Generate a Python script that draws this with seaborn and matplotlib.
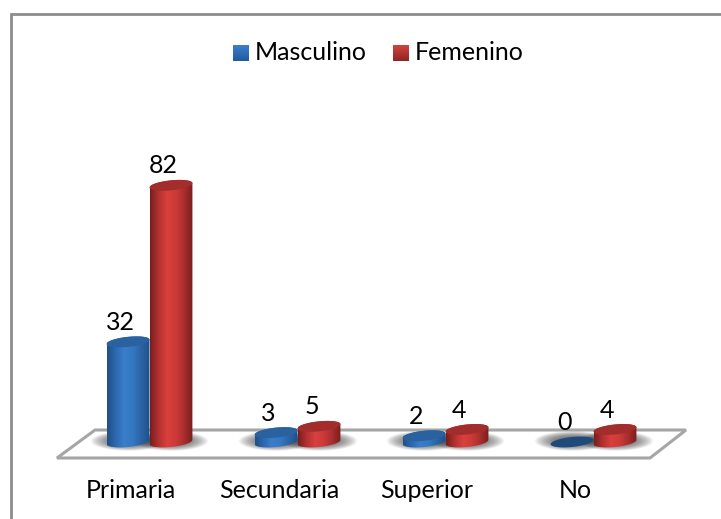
import numpy as np
import pandas as pd
import matplotlib
matplotlib.use("Agg")
import matplotlib.pyplot as plt
from matplotlib.colors import LinearSegmentedColormap
from matplotlib.path import Path
from matplotlib.patches import PathPatch, Polygon
import seaborn as sns

categories = ["Primaria", "Secundaria", "Superior", "No"]
masculino = [32, 3, 2, 0]
femenino = [82, 5, 4, 4]

W, H = 721, 519
BASE_Y = 442      # pixel row of value 0
PX_PER_UNIT = 3.13
CAT_STEP = 148
CAT0_X = 149.5
RY = 5.0
TILT = 0.10

# Gradient stops across each cylinder
blue_side = ["#1f4f88", "#2c69ae", "#3a7ecb", "#3478c2", "#2a63a4", "#1f5189"]
red_side = ["#7a1d1d", "#b23131", "#da403d", "#cc3a38", "#a82e2d", "#781e1e"]
blue_top = "#2a619f"
red_top = "#a32d2c"
zero_top = "#1f4a7c"

sns.set_theme(style="white")
plt.rcParams["font.family"] = ["Lato", "DejaVu Sans"]

df = pd.DataFrame({
    "cat": categories * 2,
    "value": masculino + femenino,
    "serie": ["Masculino"] * 4 + ["Femenino"] * 4,
})

fig = plt.figure(figsize=(W / 100, H / 100), dpi=100)
ax = fig.add_axes([0, 0, 1, 1])
sns.barplot(data=df, x="cat", y="value", hue="serie", order=categories,
            hue_order=["Masculino", "Femenino"], width=0.58, gap=0,
            palette=["#2f6db5", "#c0322f"], legend=False, ax=ax)
ax.axis("off")


# helpers: pixel position of the image to data coords
def px(x):
    return (x - CAT0_X) / CAT_STEP


def py(y):
    return (BASE_Y - y) / PX_PER_UNIT


bars = list(ax.patches[:8])

# floor of the chart
floor = Polygon([(px(57), py(458)), (px(650), py(458)), (px(686), py(430)), (px(95), py(430))],
                closed=True, fc="white", ec="#a6a6a6", lw=2.2, zorder=1)
ax.add_patch(floor)

# outer border, there is no right or bottom side
ax.plot([px(11.5), px(11.5), px(W)], [py(H), py(13.5), py(13.5)], color="#8c8c8c", lw=2, zorder=1,
        solid_joinstyle="miter")

# soft shadows on the floor
for b in bars:
    cx_px = CAT0_X + (b.get_x() + b.get_width() / 2) * CAT_STEP
    gx, gy = np.meshgrid(np.linspace(-1, 1, 120), np.linspace(-1, 1, 60))
    fall = np.clip(1 - (gx ** 2 + gy ** 2), 0, 1) ** 0.9
    rgba = np.zeros(fall.shape + (4,))
    rgba[..., 3] = 0.6 * fall
    ax.imshow(rgba, extent=[px(cx_px - 38), px(cx_px + 38), py(451), py(431)],
              aspect="auto", zorder=1.5, interpolation="bilinear")

t = np.linspace(0, 2 * np.pi, 80)


def ellipse(cx, cy, rx):
    return cx + rx * np.cos(t), cy - RY * np.sin(t) - TILT * rx * np.cos(t)


for i, b in enumerate(bars):
    val = b.get_height()
    cx = CAT0_X + (b.get_x() + b.get_width() / 2) * CAT_STEP
    rx = b.get_width() * CAT_STEP / 2
    top = BASE_Y - val * PX_PER_UNIT
    is_blue = i < 4
    side = blue_side if is_blue else red_side
    b.set_visible(False)
    z = 3 + i * 0.01 + (0.5 if not is_blue else 0)

    if val == 0:
        ex, ey = ellipse(cx, BASE_Y, rx)
        ax.fill(px(ex), py(ey), color=zero_top, lw=0, zorder=z)
        continue

    # body outline: lower half of the bottom ellipse plus the bar sides
    ex_t, ey_t = ellipse(cx, top, rx)
    lower = t[:40] + np.pi
    bx = cx + rx * np.cos(lower)
    by = BASE_Y - RY * np.sin(lower) - TILT * rx * np.cos(lower)
    tx = cx + rx * np.cos(t[:40])
    ty = top - RY * np.sin(t[:40]) - TILT * rx * np.cos(t[:40])
    outline = np.column_stack([px(np.r_[bx, tx]), py(np.r_[by, ty])])
    clip = PathPatch(Path(np.vstack([outline, outline[0]])), transform=ax.transData, fc="none", ec="none")
    ax.add_patch(clip)

    cmap = LinearSegmentedColormap.from_list("s", side)
    grad = np.linspace(0, 1, 128).reshape(1, -1)
    im = ax.imshow(grad, cmap=cmap, extent=[px(cx - rx), px(cx + rx), py(BASE_Y + RY + 6), py(top - RY - 6)],
                   aspect="auto", zorder=z, interpolation="bilinear")
    im.set_clip_path(clip)
    ax.fill(px(ex_t), py(ey_t), color=blue_top if is_blue else red_top, lw=0, zorder=z + 0.001)

# value labels, read from the same lists
off = 7.5 / CAT_STEP
for i, (m, f) in enumerate(zip(masculino, femenino)):
    ax.text(i - 0.145 - off, m + 6.2, str(m), ha="center", va="center", fontsize=18, color="black", zorder=6)
    ax.text(i + 0.145 - off, f + 6.2, str(f), ha="center", va="center", fontsize=18, color="black", zorder=6)
    ax.text(i - 0.125, py(491), categories[i], ha="center", va="center", fontsize=18, color="black", zorder=6)

# legend
leg_cols = [["#3a7fd0", "#235a9a"], ["#d4423e", "#8f2525"]]
for x0, cols, name in [(233, leg_cols[0], "Masculino"), (393, leg_cols[1], "Femenino")]:
    g = np.linspace(0, 1, 32).reshape(-1, 1)
    ax.imshow(g, cmap=LinearSegmentedColormap.from_list("l", cols), aspect="auto", zorder=6,
              extent=[px(x0), px(x0 + 15.5), py(61), py(45)])
    ax.text(px(x0 + 22), py(53), name, ha="left", va="center", fontsize=18, color="black", zorder=6)

# imshow resets the limits, so set them last
ax.set_xlim(px(0), px(W))
ax.set_ylim(py(H), py(0))

fig.savefig("out.png", dpi=100)
